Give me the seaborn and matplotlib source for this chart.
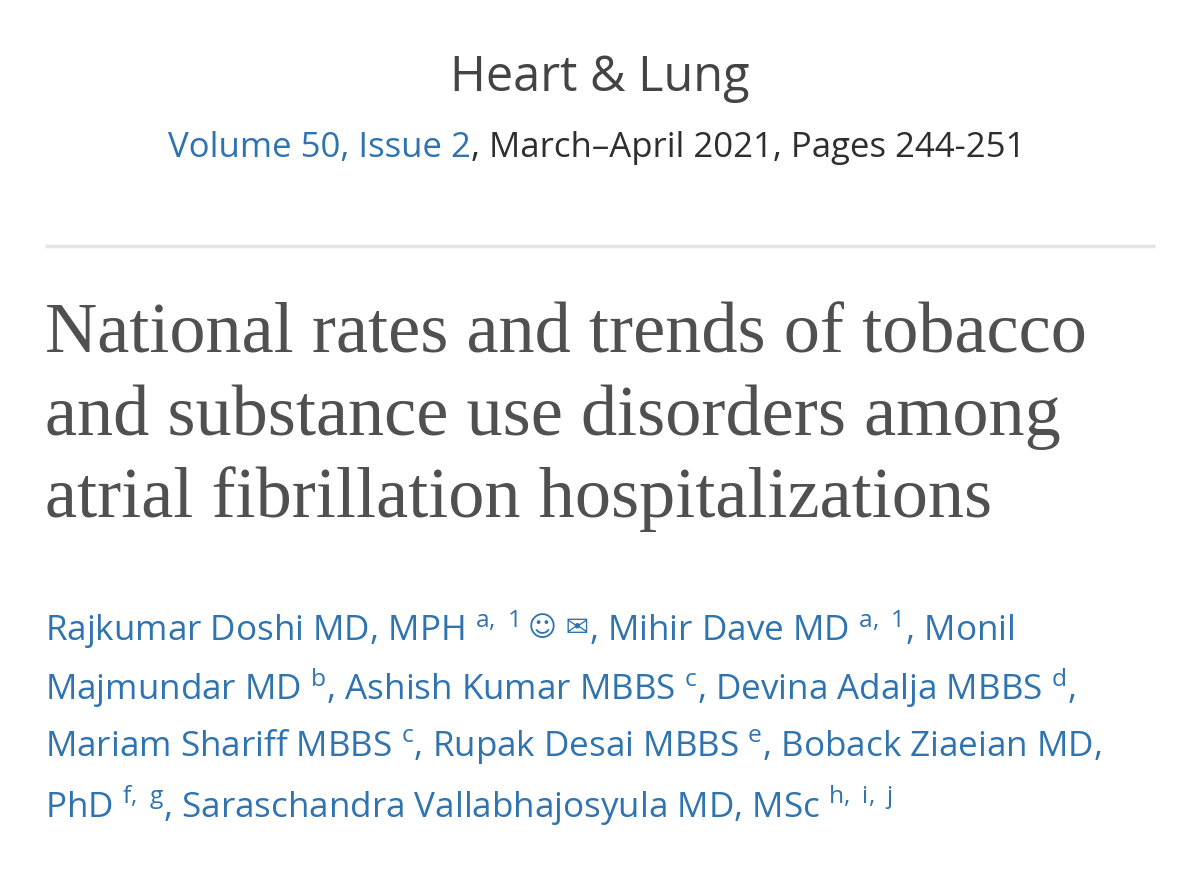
import seaborn as sns
import matplotlib.pyplot as plt

journal = "Heart & Lung"
volume_link = "Volume 50, Issue 2"
volume_rest = ", March\u2013April 2021, Pages 244-251"
title_lines = ["National rates and trends of tobacco",
               "and substance use disorders among",
               "atrial fibrillation hospitalizations"]
first_author = "Rajkumar Doshi MD, MPH $^{a,\\ 1}$"
icons = "\u263a \u2709"
author_lines = [", Mihir Dave MD $^{a,\\ 1}$, Monil",
                "Majmundar MD $^{b}$, Ashish Kumar MBBS $^{c}$, Devina Adalja MBBS $^{d}$,",
                "Mariam Shariff MBBS $^{c}$, Rupak Desai MBBS $^{e}$, Boback Ziaeian MD,",
                "PhD $^{f,\\ g}$, Saraschandra Vallabhajosyula MD, MSc $^{h,\\ i,\\ j}$"]

sns.set_theme(style="white")
plt.rcParams['font.family'] = ['Open Sans', 'DejaVu Sans']
plt.rcParams['mathtext.fontset'] = 'custom'
plt.rcParams['mathtext.rm'] = 'Open Sans'
plt.rcParams['mathtext.it'] = 'Open Sans'

blue = "#2f73b0"
dark = "#2e2e2e"
fs_auth = 25.2

fig = plt.figure(figsize=(12, 8.79), dpi=100)
ax = fig.add_axes([0, 0, 1, 1])
ax.set_xlim(0, 1200)
ax.set_ylim(879, 0)
ax.axis("off")

ax.text(600, 78, journal, ha="center", va="center", fontsize=35, color="#444444")

t1 = ax.text(168, 148, volume_link, ha="left", va="center", fontsize=25, color=blue)
fig.canvas.draw()
bb = t1.get_window_extent()
ax.text(168 + bb.width, 148, volume_rest, ha="left", va="center", fontsize=25, color=dark)

ax.plot([45, 1155], [247, 247], color="#e4e4e4", lw=2.5, solid_capstyle="butt")

for i, line in enumerate(title_lines):
    ax.text(45, 335 + i * 82, line, ha="left", va="center", fontsize=52,
            color="#505050", family="Liberation Serif")

y0 = 630
t = ax.text(45, y0, first_author, ha="left", va="center", fontsize=fs_auth, color=blue)
fig.canvas.draw()
x = 45 + t.get_window_extent().width + 10
ti = ax.text(x, y0 - 2, icons, ha="left", va="center", fontsize=20, color=blue,
             family="DejaVu Sans")
fig.canvas.draw()
x += ti.get_window_extent().width
ax.text(x, y0, author_lines[0], ha="left", va="center", fontsize=fs_auth, color=blue)

for i, line in enumerate(author_lines[1:], start=1):
    ax.text(45, y0 + i * 58.5, line, ha="left", va="center", fontsize=fs_auth, color=blue)

fig.savefig("out.png", dpi=100)
